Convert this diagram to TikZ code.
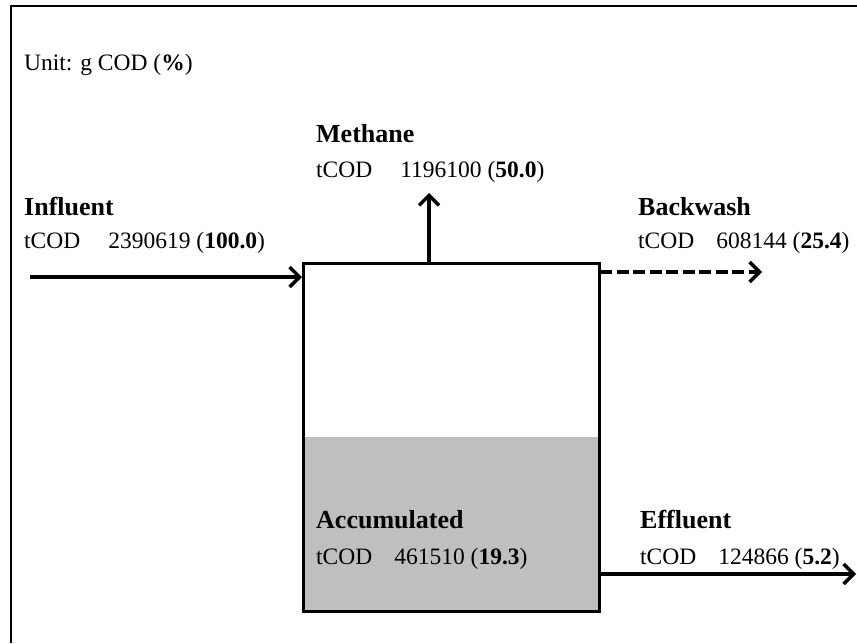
\documentclass[tikz,border=0pt]{standalone}
\usepackage{fontspec}
\setmainfont{Liberation Serif}
\usetikzlibrary{arrows.meta}
\begin{document}
\begin{tikzpicture}[x=1pt,y=-1pt,
  head/.style={font=\fontsize{26}{30}\selectfont\bfseries, anchor=base west, inner sep=0pt},
  val/.style={font=\fontsize{23.5}{27}\selectfont, anchor=base west, inner sep=0pt},
  flow/.style={line width=3.5pt, -{Straight Barb[length=10pt,width=20pt,line width=3.5pt]}},
  frame/.style={line width=2.5pt}]
\useasboundingbox (0,0) rectangle (857,643);
% outer frame (top and left only visible)
\draw[frame] (11,643) -- (11,6) -- (857,6);
% reactor
\fill[fill=black!25] (302,437) rectangle (598,610);
\node[draw, line width=2.5pt, minimum width=296pt, minimum height=348pt, inner sep=0pt, anchor=north west] (box) at (302,262) {};
% texts
\node[val] (unit) at (24,70) {Unit: g COD (\textbf{\%})};
\node[head] (inf) at (24,215) {Influent};
\node[val] (infv) at (24,248) {tCOD\hspace{28pt}2390619 (\textbf{100.0})};
\node[head] (met) at (316,142) {Methane};
\node[val] (metv) at (316,177) {tCOD\hspace{28pt}1196100 (\textbf{50.0})};
\node[head] (bw) at (638,215) {Backwash};
\node[val] (bwv) at (638,248) {tCOD\hspace{22pt}608144 (\textbf{25.4})};
\node[head] (acc) at (316,528) {Accumulated};
\node[val] (accv) at (316,564) {tCOD\hspace{22pt}461510 (\textbf{19.3})};
\node[head] (eff) at (640,528) {Effluent};
\node[val] (effv) at (640,564) {tCOD\hspace{22pt}124866 (\textbf{5.2})};
% connectors
\coordinate (inS) at (30,277);
\coordinate (inE) at (302,277);
\coordinate (meS) at (429,262);
\coordinate (meE) at (429,193);
\coordinate (bwS) at (600,272);
\coordinate (bwE) at (762,272);
\coordinate (efS) at (598,574);
\coordinate (efE) at (856,574);
\draw[flow] (inS) -- (inE);
\draw[flow] (meS) -- (meE);
\draw[flow, dash pattern=on 12pt off 4.5pt] (bwS) -- (bwE);
\draw[flow] (efS) -- (efE);
\end{tikzpicture}
\end{document}
